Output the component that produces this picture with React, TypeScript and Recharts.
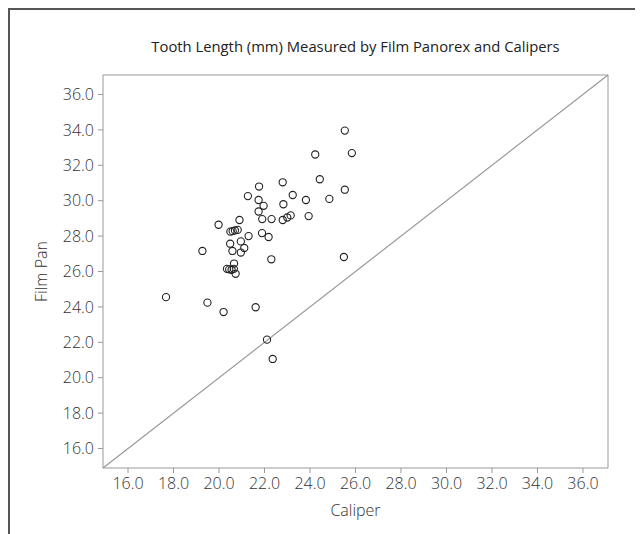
import { Label, ReferenceLine, Scatter, ScatterChart, XAxis, YAxis } from "recharts"

// caliper vs film panorex, mm
const caliper = [
  25.53, 24.23, 25.84, 22.8, 24.43, 25.53, 21.76, 21.27, 23.24, 21.74,
  21.96, 23.82, 24.85, 22.83, 21.74, 23.94, 21.9, 22.31, 22.8, 23.0,
  23.15, 20.9, 19.98, 20.5, 20.6, 20.7, 20.82, 21.3, 21.89, 22.18,
  20.49, 20.96, 21.11, 20.59, 20.96, 19.27, 22.3, 25.49, 20.66, 20.35,
  20.45, 20.55, 20.65, 20.73, 17.67, 19.49, 20.2, 21.61, 22.11, 22.36,
]
const filmPan = [
  33.96, 32.61, 32.69, 31.04, 31.21, 30.62, 30.8, 30.26, 30.32, 30.04,
  29.71, 30.04, 30.1, 29.8, 29.39, 29.13, 28.96, 28.96, 28.91, 29.05,
  29.17, 28.91, 28.64, 28.25, 28.28, 28.32, 28.35, 28.0, 28.17, 27.95,
  27.57, 27.7, 27.33, 27.16, 27.07, 27.16, 26.69, 26.82, 26.45, 26.15,
  26.12, 26.1, 26.15, 25.87, 24.55, 24.24, 23.71, 23.98, 22.15, 21.06,
]
const ticks = [16, 18, 20, 22, 24, 26, 28, 30, 32, 34, 36]
const domain: [number, number] = [14.9, 37.1]

const points = caliper.map((x, i) => ({ x, y: filmPan[i] }))

const font = "'Open Sans', Lato, sans-serif"
const textColor = "#333"
const tickStyle = { fontSize: 16, fill: textColor, fontFamily: font, fontWeight: 300 }

const Ring = (props: any) => (
  <circle cx={props.cx} cy={props.cy} r={3.6} fill="none" stroke="#222" strokeWidth={1.1} />
)

export default function App() {
  return (
    <div
      style={{
        position: "relative",
        width: 635,
        height: 526,
        boxSizing: "border-box",
        borderTop: "2px solid #555",
        borderLeft: "2px solid #555",
        fontFamily: font,
      }}
    >
      <div
        style={{
          position: "absolute",
          left: 93,
          width: 505,
          top: 26,
          textAlign: "center",
          fontSize: 14.8,
          color: "#222",
        }}
      >
        Tooth Length (mm) Measured by Film Panorex and Calipers
      </div>
      <ScatterChart width={633} height={524} margin={{ top: 65, right: 35, left: 0, bottom: 0 }}>
        <XAxis
          type="number"
          dataKey="x"
          domain={domain}
          ticks={ticks}
          allowDataOverflow
          tickFormatter={(v) => v.toFixed(1)}
          tick={tickStyle}
          tickSize={5}
          tickMargin={5}
          stroke="#999"
          height={66}
        >
          <Label
            content={({ viewBox }: any) => (
              <text
                x={viewBox.x + viewBox.width / 2}
                y={viewBox.y + 48}
                textAnchor="middle"
                fontSize={16}
                fontWeight={300}
                fill={textColor}
                fontFamily={font}
              >
                Caliper
              </text>
            )}
          />
        </XAxis>
        <YAxis
          type="number"
          dataKey="y"
          domain={domain}
          ticks={ticks}
          allowDataOverflow
          tickFormatter={(v) => v.toFixed(1)}
          tick={tickStyle}
          tickSize={5}
          tickMargin={4}
          stroke="#999"
          width={93}
        >
          <Label
            content={({ viewBox }: any) => {
              const cx = 37
              const cy = viewBox.y + viewBox.height / 2
              return (
                <text
                  x={cx}
                  y={cy}
                  transform={`rotate(-90 ${cx} ${cy})`}
                  textAnchor="middle"
                  fontSize={16}
                  fontWeight={300}
                  fill={textColor}
                  fontFamily={font}
                >
                  Film Pan
                </text>
              )
            }}
          />
        </YAxis>
        <ReferenceLine y={37.1} stroke="#999" ifOverflow="extendDomain" />
        <ReferenceLine x={37.1} stroke="#999" ifOverflow="extendDomain" />
        <ReferenceLine
          segment={[
            { x: 14.9, y: 14.9 },
            { x: 37.1, y: 37.1 },
          ]}
          stroke="#999"
          strokeWidth={1.2}
        />
        <Scatter data={points} shape={Ring} isAnimationActive={false} />
      </ScatterChart>
    </div>
  )
}
